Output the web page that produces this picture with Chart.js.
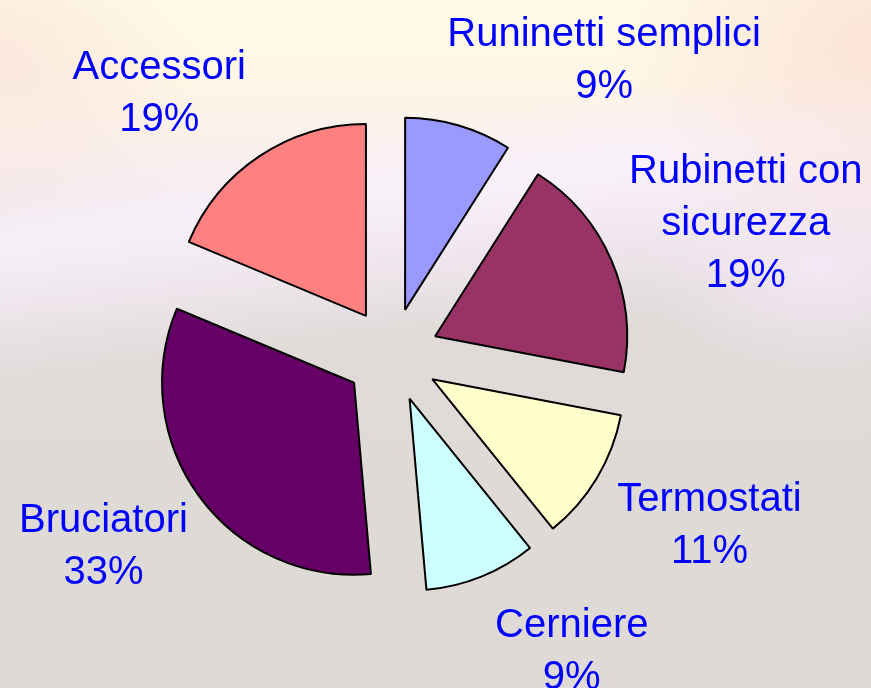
<!DOCTYPE html>
<html>
<head>
<meta charset="utf-8">
<script src="https://cdn.jsdelivr.net/npm/chart.js@4"></script>
<style>
html, body { margin: 0; padding: 0; width: 871px; height: 688px; overflow: hidden; }
body {
  background:
    radial-gradient(ellipse 260px 220px at 871px 40px, rgba(250,222,208,0.75), rgba(250,222,208,0) 100%),
    radial-gradient(ellipse 200px 160px at 0px 60px, rgba(248,222,214,0.6), rgba(248,222,214,0) 100%),
    radial-gradient(ellipse 180px 110px at 820px 270px, rgba(246,234,248,0.8), rgba(246,234,248,0) 100%),
    linear-gradient(172deg, rgba(250,242,252,0) 22%, rgba(250,242,252,0.85) 30%, rgba(246,236,246,0.6) 38%, rgba(240,232,240,0) 48%),
    linear-gradient(180deg, #FFFBE6 0%, #FEF6E6 12%, #F8EEEE 24%, #E8E0E4 36%, #E0DBD9 48%, #DEDAD6 70%, #DFDAD7 100%);
}
#wrap { position: absolute; left: 0; top: 0; width: 871px; height: 688px; }
</style>
</head>
<body>
<div id="wrap"><canvas id="c"></canvas></div>
<script>
const categories = [["Runinetti semplici"], ["Rubinetti con", "sicurezza"], ["Termostati"], ["Cerniere"], ["Bruciatori"], ["Accessori"]];
const shares = [9.0, 19.0, 11.2, 9.4, 32.7, 18.7];
const sliceColors = ["#9999FF", "#993366", "#FFFFCC", "#CCFFFF", "#660066", "#FF8080"];
const labelNudges = [[113, 43], [28, 6], [13, -16], [47, -36], [-2, -22], [-36, 30]];

const explodePlugin = {
  id: 'explode',
  beforeDatasetDraw(chart, args, opts) {
    const ctx = chart.ctx;
    const d = opts.distance || 0;
    args.meta.data.forEach(arc => {
      const mid = (arc.startAngle + arc.endAngle) / 2;
      ctx.save();
      ctx.translate(Math.cos(mid) * d, Math.sin(mid) * d);
      arc.draw(ctx, chart.chartArea);
      ctx.restore();
    });
    return false;
  },
  afterDatasetsDraw(chart, args, opts) {
    const ctx = chart.ctx;
    const meta = chart.getDatasetMeta(0);
    const total = shares.reduce((a, b) => a + b, 0);
    ctx.save();
    ctx.font = '40px "Liberation Sans", Arial, sans-serif';
    ctx.fillStyle = '#0000FF';
    ctx.textAlign = 'center';
    ctx.textBaseline = 'alphabetic';
    const L = opts.labelDistance, lh = opts.lineHeight;
    meta.data.forEach((arc, i) => {
      const mid = (arc.startAngle + arc.endAngle) / 2;
      const cx = arc.x + Math.cos(mid) * L + labelNudges[i][0];
      const cy = arc.y + Math.sin(mid) * L + labelNudges[i][1];
      const lines = categories[i].concat([Math.round(shares[i] / total * 100) + '%']);
      const y0 = cy - (lines.length - 1) * lh / 2 + 15;
      lines.forEach((t, k) => ctx.fillText(t, cx, y0 + k * lh));
    });
    ctx.restore();
  }
};

new Chart(document.getElementById('c'), {
  type: 'pie',
  data: {
    labels: categories.map(c => c.join(' ')),
    datasets: [{
      data: shares,
      backgroundColor: sliceColors,
      borderColor: '#000000',
      borderWidth: 2
    }]
  },
  options: {
    responsive: true,
    maintainAspectRatio: false,
    animation: false,
    events: [],
    radius: 192,
    layout: { padding: { left: 0, right: 87, top: 22, bottom: 0 } },
    plugins: {
      legend: { display: false },
      tooltip: { enabled: false },
      explode: { distance: 47, labelDistance: 355, lineHeight: 52 }
    }
  },
  plugins: [explodePlugin]
});
</script>
</body>
</html>
